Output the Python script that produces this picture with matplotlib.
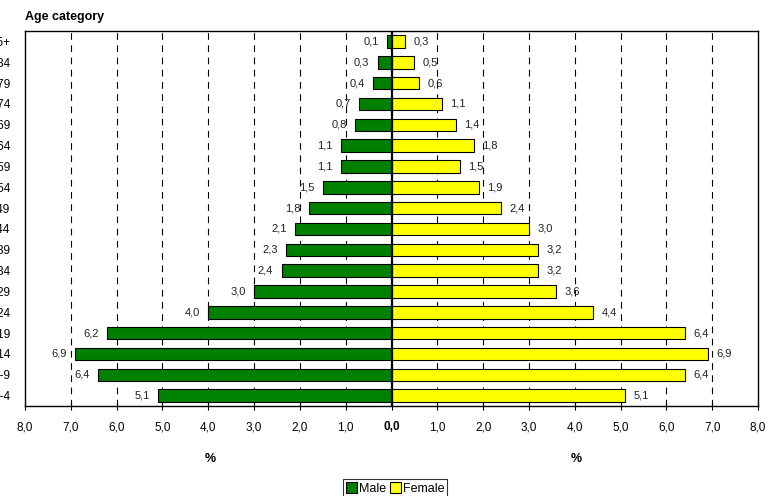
import matplotlib
matplotlib.use("Agg")
import matplotlib.pyplot as plt
from matplotlib.patches import Patch
import numpy as np

categories = ["0-4", "5-9", "10-14", "15-19", "20-24", "25-29", "30-34", "35-39",
              "40-44", "45-49", "50-54", "55-59", "60-64", "65-69", "70-74",
              "75-79", "80-84", "85+"]
male = [5.1, 6.4, 6.9, 6.2, 4.0, 3.0, 2.4, 2.3, 2.1, 1.8, 1.5, 1.1, 1.1, 0.8, 0.7, 0.4, 0.3, 0.1]
female = [5.1, 6.4, 6.9, 6.4, 4.4, 3.6, 3.2, 3.2, 3.0, 2.4, 1.9, 1.5, 1.8, 1.4, 1.1, 0.6, 0.5, 0.3]
xticks = [-8, -7, -6, -5, -4, -3, -2, -1, 0, 1, 2, 3, 4, 5, 6, 7, 8]

FONT = ["Liberation Sans Narrow", "Liberation Sans", "DejaVu Sans"]
plt.rcParams["font.family"] = FONT

fig = plt.figure(figsize=(7.81, 4.96), dpi=100)
ax = fig.add_axes([25/781, 1-406/496, (758-25)/781, (406-31)/496])

y = np.arange(len(categories))
ax.barh(y, [-m for m in male], height=0.6, color="#008000", edgecolor="black", linewidth=0.8, zorder=3)
ax.barh(y, female, height=0.6, color="#ffff00", edgecolor="black", linewidth=0.8, zorder=3)

for yi, m, f in zip(y, male, female):
    ax.annotate(f"{m:.1f}".replace(".", ","), xy=(-m, yi), xytext=(-6, 0),
                textcoords="offset points", ha="right", va="center", fontsize=8, color="#222222", zorder=4)
    ax.annotate(f"{f:.1f}".replace(".", ","), xy=(f, yi), xytext=(6, 0),
                textcoords="offset points", ha="left", va="center", fontsize=8, color="#222222", zorder=4)

ax.set_xlim(-8, 8)
ax.set_ylim(-0.5, len(categories) - 0.5)
ax.set_xticks(xticks)
ax.set_xticklabels([f"{abs(v):.1f}".replace(".", ",") for v in xticks], fontsize=8.5)
for lbl, v in zip(ax.get_xticklabels(), xticks):
    if v == 0:
        lbl.set_fontweight("bold")
ax.tick_params(axis="x", direction="inout", length=6, width=0.8, pad=8)
ax.set_yticks(y)
ax.set_yticklabels(categories, fontsize=8.5)
ax.tick_params(axis="y", length=0, pad=10.5)

for v in xticks:
    if v not in (-8, 0, 8):
        ax.axvline(v, color="black", linewidth=0.8, linestyle=(0, (6, 5)), zorder=1)
ax.axvline(0, color="black", linewidth=1.6, zorder=5)

for s in ax.spines.values():
    s.set_color("black")
    s.set_linewidth(1.0)

fig.text(25/781, 1-17/496, "Age category", fontsize=9, fontweight="bold", ha="left", va="center")
fig.text(210/781, 1-459/496, "%", fontsize=9, fontweight="bold", ha="center", va="center")
fig.text(576/781, 1-459/496, "%", fontsize=9, fontweight="bold", ha="center", va="center")

handles = [Patch(facecolor="#008000", edgecolor="black", linewidth=0.8, label="Male"),
           Patch(facecolor="#ffff00", edgecolor="black", linewidth=0.8, label="Female")]
leg = fig.legend(handles=handles, loc="lower center", bbox_to_anchor=(395/781, -0.004), ncol=2,
                 fontsize=9, frameon=True, fancybox=False, edgecolor="black",
                 handlelength=0.9, handleheight=0.9, handletextpad=0.15, columnspacing=0.3,
                 borderpad=0.25, borderaxespad=0.0)
leg.get_frame().set_linewidth(0.8)

fig.savefig("out.png", dpi=100)
